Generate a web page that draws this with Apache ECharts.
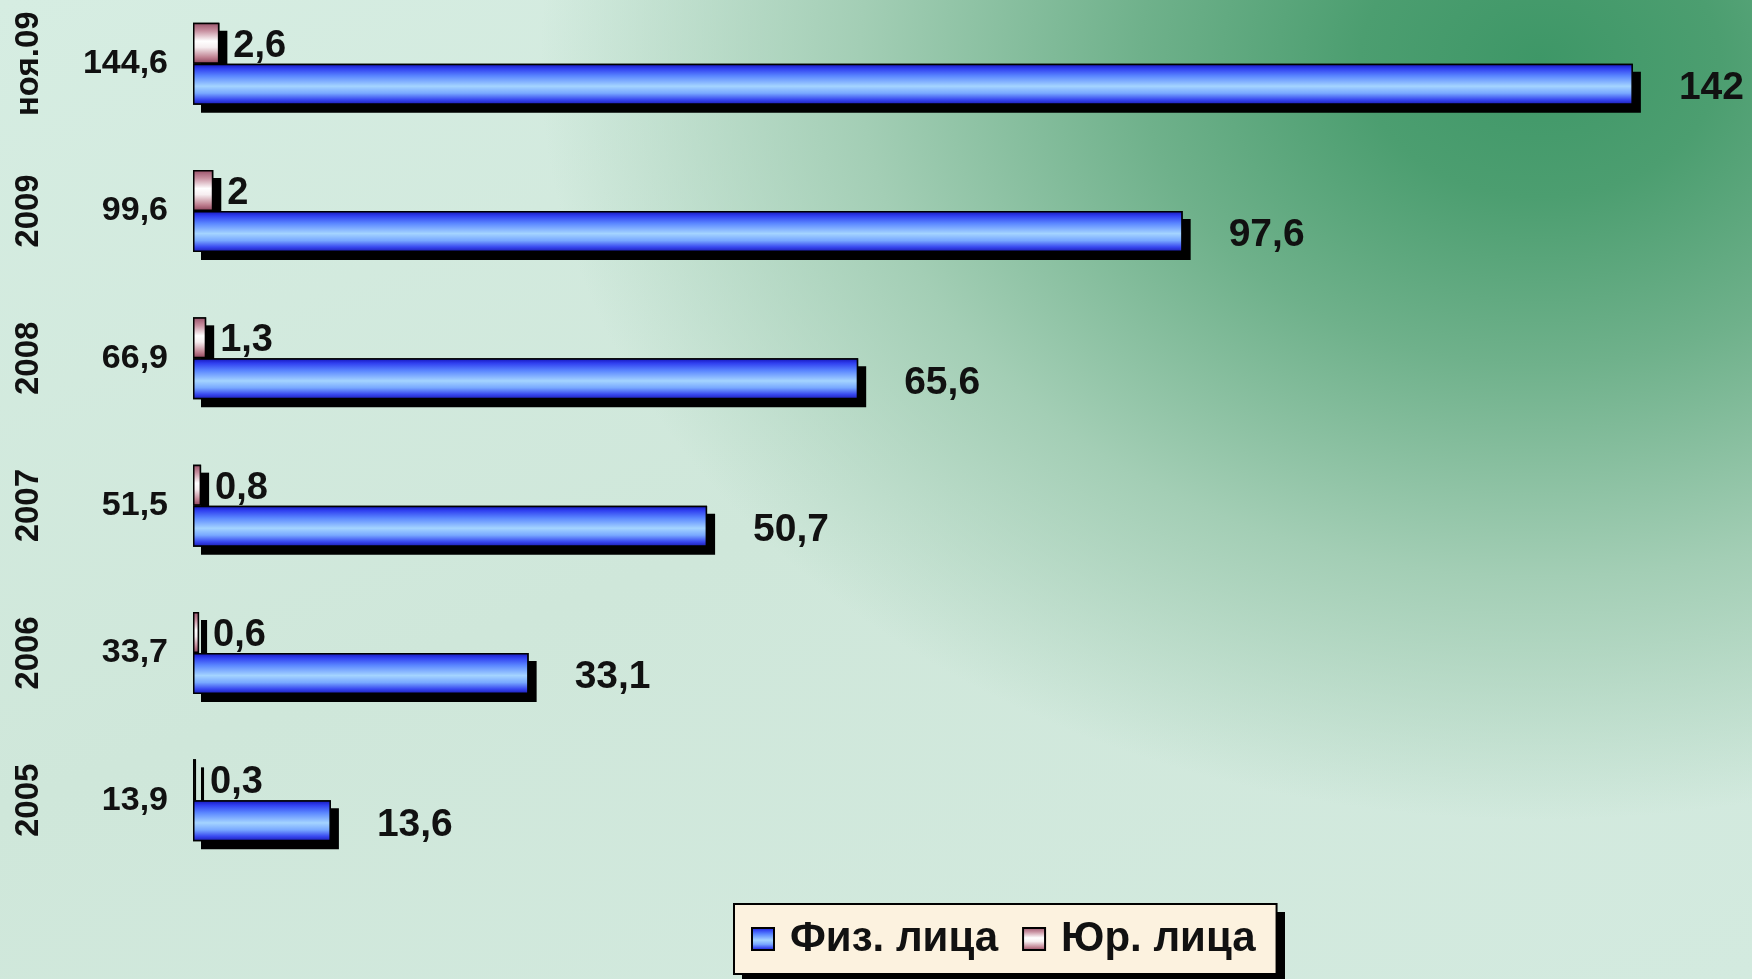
<!DOCTYPE html>
<html>
<head>
<meta charset="utf-8">
<script src="https://cdn.jsdelivr.net/npm/echarts@6/dist/echarts.min.js"></script>
<style>
html,body{margin:0;padding:0;width:1752px;height:979px;overflow:hidden;position:relative;}
body{background:
 radial-gradient(ellipse 1000px 760px at 1540px 60px, #3e9767 0%, #4c9e70 18%, #6fb18b 40%, #a3ceb5 68%, rgba(205,230,216,0) 100%),
 linear-gradient(160deg, #d6ede2 0%, #cfe7da 50%, #d3eadf 100%);}
#chart{position:absolute;left:0;top:-10px;width:1752px;height:989px;}
</style>
</head>
<body>
<div id="chart"></div>
<script>
var categories = ['2005', '2006', '2007', '2008', '2009', 'ноя.09'];
var fizValues = [13.6, 33.1, 50.7, 65.6, 97.6, 142];
var jurValues = [0.3, 0.6, 0.8, 1.3, 2, 2.6];
var totalLabels = ['13,9', '33,7', '51,5', '66,9', '99,6', '144,6'];
var seriesNames = ['Физ. лица', 'Юр. лица'];

var chart = echarts.init(document.getElementById('chart'), null, {renderer: 'canvas'});
function fmt(p){ return String(p.value).replace('.', ','); }
var FONT = 'Liberation Sans, Arial, sans-serif';

var fizGrad = new echarts.graphic.LinearGradient(0, 0, 0, 1, [
  {offset: 0, color: '#1414b8'},
  {offset: 0.12, color: '#3040f0'},
  {offset: 0.3, color: '#5a86ff'},
  {offset: 0.55, color: '#a4d4ff'},
  {offset: 0.72, color: '#78a8ff'},
  {offset: 0.88, color: '#3848f0'},
  {offset: 1, color: '#1818b0'}
]);
var jurGrad = new echarts.graphic.LinearGradient(0, 0, 0, 1, [
  {offset: 0, color: '#985068'},
  {offset: 0.2, color: '#c890a0'},
  {offset: 0.45, color: '#ffffff'},
  {offset: 0.6, color: '#f6eef0'},
  {offset: 0.85, color: '#bf8090'},
  {offset: 1, color: '#8a4058'}
]);

var shadowStyle = {color: '#000', borderWidth: 0,
  shadowColor: '#000', shadowOffsetX: 8, shadowOffsetY: 8, shadowBlur: 0};

var option = {
  animation: false,
  backgroundColor: 'transparent',
  grid: {left: 193, right: 38, top: 0, bottom: 105, containLabel: false},
  xAxis: {type: 'value', min: 0, max: 150, show: false},
  yAxis: [
    {
      type: 'category', data: categories, position: 'left',
      axisLine: {show: false}, axisTick: {show: false}, splitLine: {show: false},
      axisLabel: {rotate: 90, margin: 148, interval: 0, fontSize: 33, fontWeight: 'bold',
        color: '#111', fontFamily: FONT}
    },
    {
      type: 'category', data: totalLabels, position: 'left',
      axisLine: {show: false}, axisTick: {show: false}, splitLine: {show: false},
      axisLabel: {margin: 25, interval: 0, fontSize: 34, fontWeight: 'bold',
        color: '#111', fontFamily: FONT}
    }
  ],
  graphic: [{
    type: 'rect', z: 1, silent: true,
    shape: {x: 742, y: 922, width: 543, height: 69},
    style: {fill: '#000'}
  }],
  legend: {
    data: seriesNames,
    left: 734, top: 914, z: 5,
    orient: 'horizontal',
    padding: [14, 21, 14, 17],
    itemWidth: 22, itemHeight: 22, itemGap: 24,
    icon: 'rect',
    backgroundColor: '#fcf2df',
    borderColor: '#000', borderWidth: 2,
    textStyle: {fontSize: 42, fontWeight: 'bold', color: '#111',
      fontFamily: FONT, padding: [0, 0, 0, 11]}
  },
  series: [
    {
      name: 'jur-shadow', type: 'bar', data: jurValues, yAxisIndex: 1, z: 1,
      barWidth: 41, barGap: '0%', silent: true,
      itemStyle: shadowStyle, label: {show: false}
    },
    {
      name: 'fiz-shadow', type: 'bar', data: fizValues, yAxisIndex: 1, z: 1,
      barWidth: 41, barGap: '0%', silent: true,
      itemStyle: shadowStyle, label: {show: false}
    },
    {
      name: seriesNames[1], type: 'bar', data: jurValues, yAxisIndex: 0, z: 2,
      barWidth: 41, barGap: '0%',
      itemStyle: {color: jurGrad, borderColor: '#000', borderWidth: 1.5},
      label: {show: true, position: 'right', distance: 14, offset: [0, 3], formatter: fmt,
        fontSize: 38, fontWeight: 'bold', color: '#111', fontFamily: FONT}
    },
    {
      name: seriesNames[0], type: 'bar', data: fizValues, yAxisIndex: 0, z: 3,
      barWidth: 41, barGap: '0%',
      itemStyle: {color: fizGrad, borderColor: '#000', borderWidth: 1.5},
      label: {show: true, position: 'right', distance: 46, offset: [0, 4], formatter: fmt,
        fontSize: 39, fontWeight: 'bold', color: '#111', fontFamily: FONT}
    }
  ]
};
chart.setOption(option);
</script>
</body>
</html>
